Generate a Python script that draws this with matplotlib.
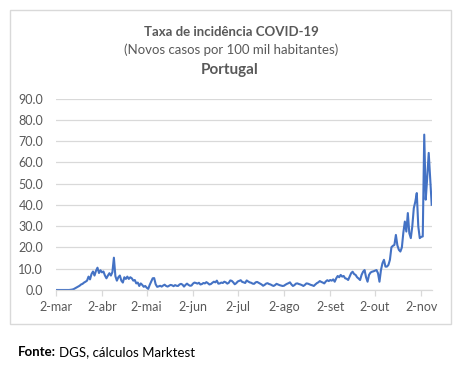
import matplotlib
matplotlib.use("Agg")
import matplotlib.pyplot as plt
from matplotlib.patches import Rectangle
import pandas as pd

plt.rcParams['font.family'] = ['Lato', 'DejaVu Sans']

start_date = "2020-03-02"
mar = [0.0,0.0,0.0,0.0,0.0,0.0,0.0,0.0,0.0,0.0, 0.1,0.2,0.4,0.8,1.2,1.6,2.0,2.6,2.9,3.5,
       3.9,4.4,6.3,5.0,7.5,8.7,6.8,9.0,10.5,8.0]
apr = [9.3,8.3,8.7,6.8,5.5,6.8,7.9,6.8,8.4,15.2, 6.5,4.4,6.0,6.8,4.4,3.5,6.0,5.2,6.3,5.2,
       6.0,5.5,4.4,4.7,3.1,3.5,1.9,3.1,2.4,1.5]
may = [1.9,1.1,0.5,2.4,3.9,5.5,5.6,2.7,1.5,1.7, 2.0,1.6,2.1,2.5,1.9,1.6,2.0,2.4,2.2,1.8,
       2.3,2.0,1.9,2.6,2.9,2.5,1.6,2.4,3.0,2.4, 2.0]
jun = [2.1,3.0,3.5,3.3,3.0,3.4,2.6,2.8,3.3,3.1, 3.7,3.2,2.6,2.8,3.4,3.9,3.6,4.4,3.0,3.1,
       3.5,3.3,3.9,3.6,3.0,3.4,4.5,4.3,3.6,2.7]
jul = [3.2,4.0,4.3,4.6,3.8,3.6,3.3,4.5,4.0,3.6, 3.4,3.0,2.9,3.6,3.8,3.4,3.0,2.6,2.0,2.4,
       3.0,3.2,2.8,2.6,2.2,1.9,2.3,2.9,2.6,2.3, 2.1]
aug = [1.9,2.0,2.5,2.9,3.2,3.6,2.6,1.9,2.3,3.0, 3.1,2.8,2.6,2.3,1.9,2.4,3.1,3.0,2.7,2.4,
       2.2,1.9,2.6,3.2,3.6,4.2,3.8,3.5,3.1,4.0, 4.6]
sep = [4.2,4.7,4.4,5.0,3.9,5.5,6.6,6.0,7.1,6.3, 6.6,5.5,5.3,4.7,6.3,7.9,8.6,7.5,7.1,6.0,
       5.4,4.7,7.1,8.6,9.4,6.0,3.9,7.1,8.2,8.6]
oct_ = [8.8,9.1,9.4,7.9,3.9,9.4,12.6,14.2,11.0,11.0, 11.8,14.2,20.1,20.8,21.2,25.9,21.0,18.9,18.1,20.0,
        27.0,32.2,27.5,36.2,26.7,24.4,30.0,38.5,41.5,45.6, 30.0]
nov = [24.4,25.0,25.2,73.1,42.5,53.0,64.5,51.9,40.1]

incidence = mar + apr + may + jun + jul + aug + sep + oct_ + nov
dates = pd.date_range(start_date, periods=len(incidence), freq="D")

tick_dates = ["2020-03-02","2020-04-02","2020-05-02","2020-06-02","2020-07-02",
              "2020-08-02","2020-09-02","2020-10-02","2020-11-02"]
tick_labels = ["2-mar","2-abr","2-mai","2-jun","2-jul","2-ago","2-set","2-out","2-nov"]
y_ticks = [0,10,20,30,40,50,60,70,80,90]

W, H = 458, 367
fig = plt.figure(figsize=(W/100, H/100), dpi=100)
ax = fig.add_axes([55.7/W, 1-290/H, (431.7-55.7)/W, (290-98.7)/H])

ax.plot(dates, incidence, color="#4472C4", lw=1.5, solid_joinstyle="round")
ax.set_xlim(dates[0], dates[-1])
ax.set_ylim(0, 90)
ax.set_yticks(y_ticks)
ax.set_yticklabels([f"{v:.1f}" for v in y_ticks])
ax.set_xticks(pd.to_datetime(tick_dates))
ax.set_xticklabels(tick_labels)

grey = "#595959"
ax.grid(axis="y", color="#d9d9d9", lw=0.9)
ax.set_axisbelow(True)
for s in ["top", "right", "left"]:
    ax.spines[s].set_visible(False)
ax.spines["bottom"].set_color("#d9d9d9")
ax.spines["bottom"].set_linewidth(0.9)
ax.tick_params(axis="y", length=0, colors=grey, labelsize=9, pad=9)
ax.tick_params(axis="x", length=4, color="#d9d9d9", width=0.9, colors=grey,
               labelsize=9, pad=4)

fig.patches.append(Rectangle((9.5/W, 1-324/H), (451-9.5)/W, (324-9.5)/H,
                             transform=fig.transFigure, fill=False,
                             edgecolor="#d9d9d9", lw=1))

fig.text(231/W, 1-32.5/H, "Taxa de incidência COVID-19", ha="center", va="center",
         fontsize=9.5, fontweight="bold", color=grey)
fig.text(231/W, 1-50/H, "(Novos casos por 100 mil habitantes)", ha="center",
         va="center", fontsize=9.5, color=grey)
fig.text(230/W, 1-70/H, "Portugal", ha="center", va="center", fontsize=11,
         fontweight="bold", color=grey)

r = fig.canvas.get_renderer()
t1 = fig.text(18/W, 1-352/H, "Fonte:", ha="left", va="center", fontsize=9.5,
              fontweight="bold", color="black")
bb = t1.get_window_extent(renderer=r)
fig.text((bb.x1 + 3)/W, 1-352/H, "DGS, cálculos Marktest", ha="left", va="center",
         fontsize=9.5, color="black")

fig.savefig("out.png", dpi=100)
